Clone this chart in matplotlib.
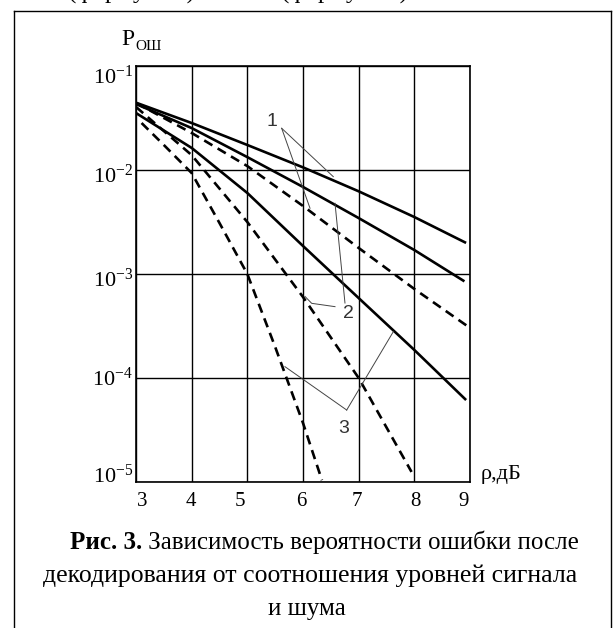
import matplotlib
matplotlib.use('Agg')
import matplotlib.pyplot as plt
from matplotlib.lines import Line2D

plt.rcParams['font.family'] = ['Liberation Serif', 'DejaVu Serif']
plt.rcParams['mathtext.fontset'] = 'custom'
plt.rcParams['mathtext.rm'] = 'Liberation Serif'
plt.rcParams['mathtext.it'] = 'Liberation Serif:italic'
plt.rcParams['mathtext.bf'] = 'Liberation Serif:bold'

# ---------------- data ----------------
# group 1
x1_solid = [3, 4, 5, 6, 7, 8, 8.93]
p1_solid = [0.0444, 0.0283, 0.0174, 0.0106, 0.00624, 0.00353, 0.00199]
x1_dash = [3, 4, 5, 6, 7, 8, 9]
p1_dash = [0.0441, 0.0227, 0.0109, 0.00451, 0.00178, 0.000718, 0.000303]
# group 2
x2_solid = [3, 4, 5, 6, 7, 8, 8.9]
p2_solid = [0.0431, 0.0253, 0.0133, 0.00687, 0.00345, 0.00170, 0.000850]
x2_dash = [3, 4, 5, 6, 7, 7.95]
p2_dash = [0.0404, 0.0139, 0.00316, 0.000601, 0.0001, 1.25e-5]
# group 3
x3_solid = [3, 4, 5, 6, 7, 8, 8.93]
p3_solid = [0.0353, 0.0163, 0.00601, 0.00186, 0.000587, 0.000186, 6.14e-5]
x3_dash = [3.1, 3.5, 4, 4.5, 5, 5.5, 6, 6.34]
p3_dash = [0.0283, 0.0174, 0.00935, 0.00309, 0.001, 0.000199, 3.69e-5, 1.04e-5]

x_ticks = [3, 4, 5, 6, 7, 8, 9]
x_tick_labels = ['3', '4', '5', '6', '7', '8', '9']
y_ticks = [1e-1, 1e-2, 1e-3, 1e-4, 1e-5]
y_tick_labels = ['$10^{-1}$', '$10^{-2}$', '$10^{-3}$', '$10^{-4}$', '$10^{-5}$']

curve_labels = ['1', '2', '3']
label_pos = [(5.448, 10**-1.536), (6.814, 10**-3.378), (6.724, 10**-4.484)]
leaders = [
    [[(5.617, 10**-1.599), (6.126, 10**-2.368)],
     [(5.617, 10**-1.599), (6.544, 10**-2.064)]],
    [[(6.575, 10**-3.314), (6.156, 10**-3.282), (6.036, 10**-3.216)],
     [(6.754, 10**-3.279), (6.575, 10**-2.320)]],
    [[(6.785, 10**-4.308), (5.676, 10**-3.891)],
     [(6.785, 10**-4.308), (7.622, 10**-3.555)]],
]

caption_bold = 'Рис. 3.'
caption_rest = ' Зависимость вероятности ошибки после'
caption_line2 = 'декодирования от соотношения уровней сигнала'
caption_line3 = 'и шума'
page_fragments = ['(формула 2)', '(формула 3)']

# ---------------- figure ----------------
W, H = 613, 628
fig = plt.figure(figsize=(W / 100, H / 100), dpi=100)
fig.patch.set_facecolor('white')

def fx(px):
    return px / W

def fy(py):
    return 1 - py / H

ax = fig.add_axes([fx(136), fy(482), fx(470) - fx(136), fy(66) - fy(482)])
ax.set_yscale('log')
ax.set_xlim(3, 9)
ax.set_ylim(1e-5, 1e-1)

lw = 1.9
dash = (0, (3.6, 2.3))
ax.plot(x1_solid, p1_solid, color='black', lw=lw, solid_capstyle='butt')
ax.plot(x1_dash, p1_dash, color='black', lw=lw, linestyle=dash)
ax.plot(x2_solid, p2_solid, color='black', lw=lw, solid_capstyle='butt')
ax.plot(x2_dash, p2_dash, color='black', lw=lw, linestyle=dash)
ax.plot(x3_solid, p3_solid, color='black', lw=lw, solid_capstyle='butt')
ax.plot(x3_dash, p3_dash, color='black', lw=lw, linestyle=dash)

ax.set_xticks(x_ticks)
ax.set_yticks(y_ticks)
ax.yaxis.set_minor_locator(matplotlib.ticker.NullLocator())
ax.set_xticklabels([])
ax.set_yticklabels([])
ax.tick_params(length=0)
ax.grid(True, which='major', color='black', lw=1.0)
for s in ax.spines.values():
    s.set_linewidth(1.2)
    s.set_color('black')

# tick labels (manual positions to match the reference offsets)
x_off_px = [6, -1, -7, -2, -2, 1, -6]
for xv, lab, off in zip(x_ticks, x_tick_labels, x_off_px):
    ax.annotate(lab, xy=(xv, 0), xycoords=ax.get_xaxis_transform(),
                xytext=(off * 0.72, -10 * 0.72), textcoords='offset points',
                ha='center', va='top', fontsize=15)
y_base_px = [18, 12.7, 13, 7.7, 0.5]
for yv, lab, off in zip(y_ticks, y_tick_labels, y_base_px):
    ax.annotate(lab, xy=(0, yv), xycoords=ax.get_yaxis_transform(),
                xytext=(-3 * 0.72, -off * 0.72), textcoords='offset points',
                ha='right', va='baseline', fontsize=16)

# axis titles
fig.text(fx(121), fy(45), 'P', fontsize=17, ha='left', va='baseline')
fig.text(fx(135), fy(50), 'ОШ', fontsize=11, ha='left', va='baseline')
ax.annotate('ρ,дБ', xy=(1, 0), xycoords='axes fraction', xytext=(8, 2),
            textcoords='offset points', ha='left', va='baseline', fontsize=16)

# curve labels with leaders
for lab, pos, lines in zip(curve_labels, label_pos, leaders):
    ax.text(pos[0], pos[1], lab, fontsize=14, family=['Liberation Sans'],
            color='#333333', ha='center', va='center')
    for seg in lines:
        xs = [p[0] for p in seg]
        ys = [p[1] for p in seg]
        ax.plot(xs, ys, color='#444444', lw=0.7)

# caption
t1 = fig.text(fx(70), fy(549), caption_bold, fontsize=18, weight='bold',
              ha='left', va='baseline')
ann = matplotlib.text.Annotation(caption_rest, xy=(1, 0), xycoords=t1, xytext=(0, 0),
                                 textcoords='offset points', ha='left', va='bottom',
                                 fontsize=18, annotation_clip=False)
ann.set_figure(fig)
fig.texts.append(ann)
fig.text(fx(310), fy(582), caption_line2, fontsize=18.5, ha='center', va='baseline')
fig.text(fx(307), fy(615), caption_line3, fontsize=18, ha='center', va='baseline')

# page fragment above the frame (cut off by the page edge, as in the reference)
fig.text(fx(68), fy(-2.5), page_fragments[0], fontsize=18, ha='left', va='baseline')
fig.text(fx(281), fy(-2.5), page_fragments[1], fontsize=18, ha='left', va='baseline')

# frame
fig.add_artist(Line2D([fx(14), fx(14)], [fy(11), fy(640)], transform=fig.transFigure,
                      color='black', lw=1.0))
fig.add_artist(Line2D([fx(14), fx(610.5)], [fy(11), fy(11)], transform=fig.transFigure,
                      color='black', lw=1.0))
fig.add_artist(Line2D([fx(610.5), fx(610.5)], [fy(11), fy(640)], transform=fig.transFigure,
                      color='black', lw=1.0))

fig.savefig('out.png', dpi=100)
